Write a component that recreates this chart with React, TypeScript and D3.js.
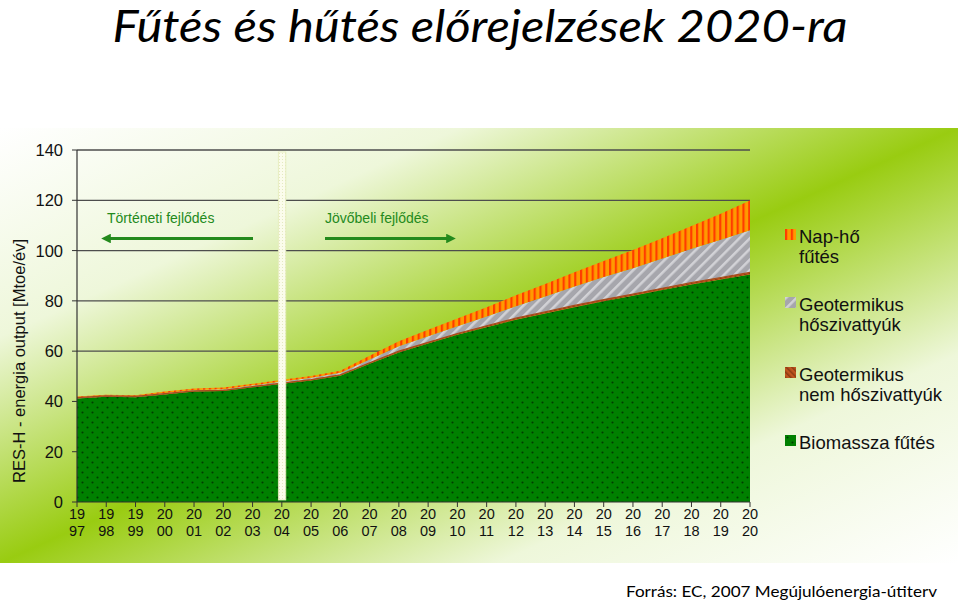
import { useEffect } from 'react';
import * as d3 from 'd3';

// Years on the x axis
const YEARS = [
  1997, 1998, 1999, 2000, 2001, 2002, 2003, 2004, 2005, 2006, 2007, 2008,
  2009, 2010, 2011, 2012, 2013, 2014, 2015, 2016, 2017, 2018, 2019, 2020,
];

// Series values (Mtoe/év)
const BIOMASS = [
  41.2, 41.9, 41.7, 42.8, 43.9, 44.1, 45.6, 47.0, 48.3, 50.2, 55.0, 59.5,
  63.0, 66.5, 69.5, 72.5, 75.0, 77.5, 79.8, 82.0, 84.3, 86.5, 88.5, 90.5,
];
const GEO_NON_HP = [
  0.3, 0.3, 0.3, 0.3, 0.3, 0.3, 0.3, 0.3, 0.4, 0.4, 0.4, 0.5,
  0.5, 0.5, 0.6, 0.6, 0.6, 0.7, 0.7, 0.7, 0.7, 0.8, 0.8, 0.8,
];
const HEAT_PUMPS = [
  0.2, 0.2, 0.2, 0.3, 0.3, 0.4, 0.5, 0.6, 0.7, 0.8, 1.3, 1.9,
  2.4, 2.9, 3.7, 4.8, 6.1, 7.5, 9.0, 10.3, 11.8, 13.4, 15.0, 16.8,
];
const SOLAR = [
  0.3, 0.3, 0.3, 0.5, 0.6, 0.7, 0.6, 0.7, 0.7, 0.8, 1.5, 2.0,
  2.6, 3.1, 3.7, 4.3, 5.0, 5.7, 6.4, 7.2, 8.1, 9.1, 10.3, 11.8,
];

const Y_TICKS = [0, 20, 40, 60, 80, 100, 120, 140];
const SPLIT_YEAR = 2004;

const SERIES_KEYS = ['biomass', 'geoNonHp', 'heatPumps', 'solar'];
const SERIES_FILL: Record<string, string> = {
  biomass: 'url(#pat-bio)',
  geoNonHp: 'url(#pat-geo)',
  heatPumps: 'url(#pat-hp)',
  solar: 'url(#pat-solar)',
};

// Legend, top to bottom
const LEGEND = [
  { key: 'solar', lines: ['Nap-hő', 'fűtés'] },
  { key: 'heatPumps', lines: ['Geotermikus', 'hőszivattyúk'] },
  { key: 'geoNonHp', lines: ['Geotermikus', 'nem hőszivattyúk'] },
  { key: 'biomass', lines: ['Biomassza fűtés'] },
];
const LEGEND_Y = [229, 297, 367, 435];

const WIDTH = 960;
const HEIGHT = 602;
const margin = { top: 150, right: 210, bottom: 100, left: 77 };

export default function App() {
  useEffect(() => {
    document.body.style.margin = '0';
  }, []);

  const x = d3.scaleLinear().domain([1997, 2020]).range([margin.left, WIDTH - margin.right]);
  const y = d3.scaleLinear().domain([0, 140]).range([HEIGHT - margin.bottom, margin.top]);

  const rows = YEARS.map((year, i) => ({
    year,
    biomass: BIOMASS[i],
    geoNonHp: GEO_NON_HP[i],
    heatPumps: HEAT_PUMPS[i],
    solar: SOLAR[i],
  }));
  const stacked = d3.stack<any>().keys(SERIES_KEYS)(rows);

  const area = d3
    .area<any>()
    .x((d) => x(d.data.year))
    .y0((d) => y(d[0]))
    .y1((d) => y(d[1]));

  const x0 = x(1997);
  const x1 = x(2020);
  const axisFont = '"Liberation Sans", Arial, sans-serif';
  const arrowGreen = '#238a1c';

  return (
    <svg
      width={WIDTH}
      height={HEIGHT}
      style={{ display: 'block', position: 'absolute', left: 0, top: 0 }}
    >
      <defs>
        <linearGradient id="bg" x1="0" y1="0" x2="1" y2="1">
          <stop offset="0" stopColor="#ffffff" />
          <stop offset="0.24" stopColor="#eef7da" />
          <stop offset="0.5" stopColor="#99cc11" />
          <stop offset="0.76" stopColor="#eef7da" />
          <stop offset="1" stopColor="#ffffff" />
        </linearGradient>
        <pattern id="pat-bio" width="10" height="10" patternUnits="userSpaceOnUse">
          <rect width="10" height="10" fill="#008000" />
          <circle cx="2.5" cy="2.5" r="1.05" fill="#003d00" />
          <circle cx="7.5" cy="7.5" r="1.05" fill="#003d00" />
        </pattern>
        <pattern id="pat-geo" width="4" height="4" patternUnits="userSpaceOnUse" patternTransform="rotate(-45)">
          <rect width="4" height="4" fill="#c0541e" />
          <rect width="1.5" height="4" fill="#8a3a14" />
        </pattern>
        <pattern id="pat-hp" width="7.5" height="7.5" patternUnits="userSpaceOnUse" patternTransform="rotate(45)">
          <rect width="7.5" height="7.5" fill="#a6a6ac" />
          <rect width="2.5" height="7.5" fill="#d2d2d6" />
        </pattern>
        <pattern id="pat-solar" width="5.8" height="10" patternUnits="userSpaceOnUse">
          <rect width="5.8" height="10" fill="#ff9a00" />
          <rect width="2.2" height="10" fill="#ff3c00" />
        </pattern>
        <pattern id="pat-bar" width="3" height="3" patternUnits="userSpaceOnUse">
          <rect width="3" height="3" fill="#fbfcec" />
          <rect width="1" height="1" fill="#e4eac0" />
        </pattern>
        <marker id="arrow" viewBox="0 0 10 10" refX="5" refY="5" markerWidth="3.2" markerHeight="3.2" orient="auto-start-reverse">
          <path d="M0,0 L10,5 L0,10 z" fill={arrowGreen} />
        </marker>
      </defs>

      {/* Title */}
      <text
        x={480}
        y={42}
        textAnchor="middle"
        fontFamily="Lato, 'Open Sans', sans-serif"
        fontStyle="italic"
        fontSize={44}
        textLength={735}
        lengthAdjust="spacingAndGlyphs"
        fill="#000"
      >
        Fűtés és hűtés előrejelzések 2020-ra
      </text>

      {/* Background panel */}
      <rect x={0} y={128} width={958} height={435} fill="url(#bg)" />

      {/* Grid */}
      {Y_TICKS.filter((t) => t > 0).map((t) => (
        <line key={t} x1={x0} x2={x1} y1={y(t)} y2={y(t)} stroke="#4d4d4d" strokeWidth={1.3} />
      ))}

      {/* Stacked areas */}
      {stacked.map((s) => (
        <path key={s.key} d={area(s) || ''} fill={SERIES_FILL[s.key]} />
      ))}
      <path
        d={d3.line<any>().x((d) => x(d.data.year)).y((d) => y(d[1]))(stacked[1]) || ''}
        fill="none"
        stroke="#a84a1c"
        strokeWidth={1.2}
      />

      {/* Axes */}
      <line x1={x0} x2={x0} y1={y(140)} y2={y(0)} stroke="#333" strokeWidth={1.2} />
      <line x1={x0} x2={x1} y1={y(0)} y2={y(0)} stroke="#333" strokeWidth={1.2} />
      {Y_TICKS.map((t) => (
        <g key={t}>
          <line x1={x0 - 5} x2={x0} y1={y(t)} y2={y(t)} stroke="#333" />
          <text
            x={63}
            y={y(t)}
            dy="0.36em"
            textAnchor="end"
            fontFamily={axisFont}
            fontSize={16.5}
            fill="#111"
          >
            {t}
          </text>
        </g>
      ))}
      {YEARS.map((yr) => (
        <g key={yr}>
          <line x1={x(yr)} x2={x(yr)} y1={y(0)} y2={y(0) + 5} stroke="#333" />
          <text x={x(yr)} y={519} textAnchor="middle" fontFamily={axisFont} fontSize={14.5} fill="#111">
            {String(yr).slice(0, 2)}
          </text>
          <text x={x(yr)} y={536} textAnchor="middle" fontFamily={axisFont} fontSize={14.5} fill="#111">
            {String(yr).slice(2)}
          </text>
        </g>
      ))}
      <text
        transform={`translate(25, ${(y(0) + y(140)) / 2 + 35}) rotate(-90)`}
        textAnchor="middle"
        fontFamily={axisFont}
        fontSize={16.5}
        fill="#111"
      >
        RES-H - energia output [Mtoe/év]
      </text>

      {/* 2004 divider */}
      <rect
        x={x(SPLIT_YEAR) - 3.5}
        y={152}
        width={7.5}
        height={348}
        fill="url(#pat-bar)"
        stroke="#e4eab8"
        strokeWidth={0.8}
      />

      {/* Historic / future annotations */}
      <text x={107} y={222.5} fontFamily={axisFont} fontSize={14} fill={arrowGreen}>
        Történeti fejlődés
      </text>
      <line x1={253} x2={106} y1={238.5} y2={238.5} stroke={arrowGreen} strokeWidth={3} markerEnd="url(#arrow)" />
      <text x={325} y={223} fontFamily={axisFont} fontSize={14} fill={arrowGreen}>
        Jövőbeli fejlődés
      </text>
      <line x1={325} x2={451} y1={238.5} y2={238.5} stroke={arrowGreen} strokeWidth={3} markerEnd="url(#arrow)" />

      {/* Legend */}
      {LEGEND.map((item, i) => (
        <g key={item.key} transform={`translate(785, ${LEGEND_Y[i]})`}>
          <rect width={11} height={11} fill={SERIES_FILL[item.key]} />
          {item.lines.map((line, j) => (
            <text
              key={j}
              x={14}
              y={13.5 + j * 20}
              fontFamily={axisFont}
              fontSize={18.5}
              fill="#111"
            >
              {line}
            </text>
          ))}
        </g>
      ))}

      {/* Source */}
      <text
        x={626}
        y={597}
        fontFamily="Lato, 'Open Sans', sans-serif"
        fontSize={16}
        textLength={311}
        lengthAdjust="spacingAndGlyphs"
        fill="#000"
      >
        Forrás: EC, 2007 Megújulóenergia-útiterv
      </text>
    </svg>
  );
}
